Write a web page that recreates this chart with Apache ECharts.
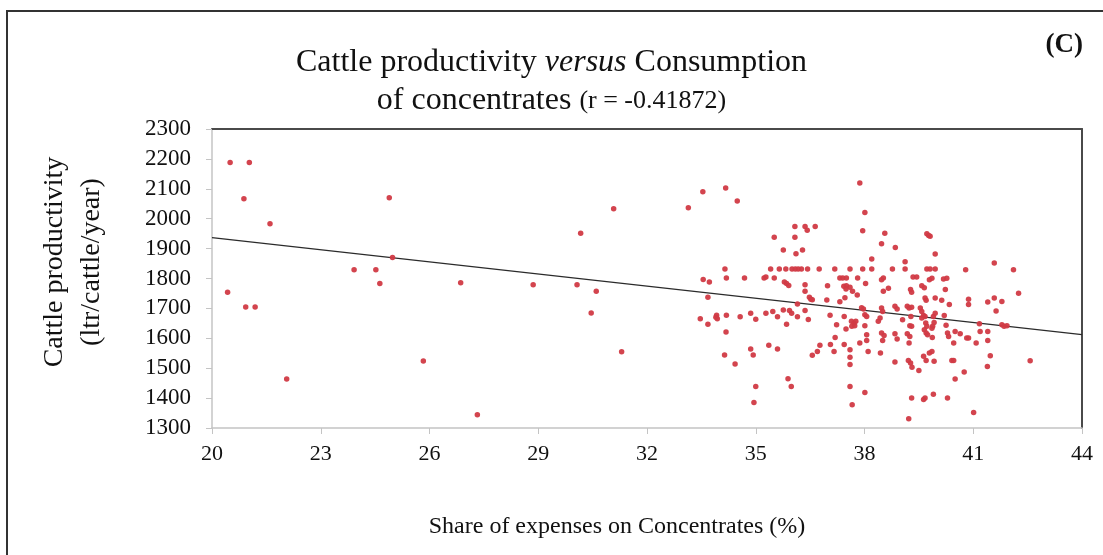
<!DOCTYPE html>
<html>
<head>
<meta charset="utf-8">
<script src="https://cdn.jsdelivr.net/npm/echarts@6/dist/echarts.min.js"></script>
<style>
  html, body { margin: 0; padding: 0; background: #fff; }
  #chart { width: 1103px; height: 555px; }
</style>
</head>
<body>
<div id="chart"></div>
<script>
// Share of expenses on concentrates (%) for each farm
const shareConcentrates = [
  20.50, 21.03, 20.88, 21.60, 20.43, 20.93, 21.19, 22.06, 23.92, 24.52, 24.63, 24.89, 24.98, 25.83, 26.86, 27.32,
  28.86, 30.07, 30.17, 30.60, 30.46, 31.08, 31.30, 33.14, 33.54, 34.17, 34.15, 33.55, 33.72, 34.19, 33.68, 33.47,
  33.68, 33.92, 33.94, 33.90, 34.19, 34.18, 34.14,
  34.49, 36.08, 36.36, 36.42, 36.64, 35.51, 36.08, 35.76, 36.29, 36.11,
  35.41, 35.65, 35.83, 36.00, 36.09, 36.17, 36.26, 36.43, 36.75,
  34.69, 35.23, 35.28, 35.51, 35.79, 35.85, 35.91, 36.36, 36.36, 36.98,
  36.48, 36.52, 36.56, 36.96, 36.15,
  34.57, 34.86, 35.00, 35.28, 35.47, 35.60, 35.76, 35.93, 35.99, 36.15, 36.36, 36.45, 35.85,
  35.36, 35.60, 34.86, 34.93, 34.43, 36.77, 36.70, 36.56, 35.89, 35.98, 35.00, 34.95,
  37.87, 38.01, 37.95, 38.56, 38.47, 38.85, 38.20, 39.12,
  37.18, 37.60, 37.95, 38.20, 38.77, 39.12,
  39.34, 39.44, 37.32, 37.40, 37.50, 37.81, 38.52, 38.47,
  37.43, 37.50, 37.60, 37.49, 37.67, 37.80, 38.03, 38.66, 38.52, 39.27, 39.30,
  37.32, 37.46, 37.92, 37.97, 38.01, 38.06, 38.47, 38.50, 38.43, 38.38, 38.84, 38.90, 39.18, 39.23, 39.30, 39.05, 39.28,
  37.05, 37.44, 37.23, 37.49, 37.64, 37.71, 37.76, 37.65, 37.73, 38.01, 39.25, 39.30, 39.18, 39.25, 38.47, 38.54,
  38.50, 38.06, 38.06, 38.84, 38.90,
  37.19, 37.06, 37.44, 37.60, 37.60, 37.87, 38.10, 38.44, 39.23, 37.16, 37.60, 38.84, 39.21, 39.27, 39.31, 39.50,
  37.60, 38.01, 37.66, 39.30, 39.22,
  39.72, 39.77, 39.81, 39.95, 39.72, 39.81, 39.95, 40.79, 41.58,
  39.79, 39.86, 40.18, 40.27, 39.58, 39.65, 40.23,
  39.67, 39.70, 39.95, 40.13, 40.34, 40.87, 40.87, 41.40, 41.58, 41.79, 41.63,
  39.54, 39.58, 39.63, 39.67, 39.58, 39.69, 39.72, 39.65, 39.70, 39.74,
  39.90, 39.92, 39.88, 39.86, 39.95, 40.20, 40.25, 40.29, 40.32, 40.50, 40.64, 40.46, 40.82, 40.87, 41.17, 41.19,
  41.40, 41.40, 41.08, 39.87,
  39.63, 39.70, 39.79, 39.86, 39.92, 40.41, 40.46, 40.50, 40.75, 41.47, 41.39,
  39.63, 39.67, 39.90, 40.29, 41.01, 41.79, 41.85, 41.93,
  42.11, 42.25, 42.57
];

// Cattle productivity (ltr/cattle/year), same order as shareConcentrates
const productivity = [
  2188, 2188, 2067, 1983, 1754, 1705, 1705, 1464, 1829, 1829, 1783, 2070, 1870, 1524, 1786, 1344,
  1779, 1779, 1951, 1757, 1685, 2033, 1555, 2037, 2090, 2103, 1832, 1797, 1788, 1802, 1737, 1665,
  1647, 1677, 1665, 1670, 1677, 1621, 1544,
  2059, 1974, 1974, 1961, 1974, 1938, 1938, 1895, 1895, 1883,
  1832, 1832, 1832, 1832, 1832, 1832, 1832, 1832, 1832,
  1802, 1802, 1805, 1802, 1788, 1783, 1777, 1779, 1757, 1776,
  1737, 1731, 1729, 1728, 1715,
  1672, 1684, 1664, 1684, 1690, 1672, 1695, 1693, 1684, 1672, 1693, 1663, 1647,
  1577, 1564, 1564, 1544, 1514, 1577, 1556, 1543, 1465, 1439, 1439, 1385,
  2119, 2021, 1960, 1951, 1916, 1904, 1865, 1856,
  1832, 1832, 1832, 1832, 1832, 1832,
  1805, 1805, 1802, 1802, 1802, 1802, 1802, 1796,
  1774, 1776, 1771, 1765, 1757, 1745, 1783, 1767, 1757, 1763, 1754,
  1722, 1736, 1702, 1698, 1679, 1673, 1701, 1690, 1668, 1657, 1707, 1698, 1707, 1701, 1704, 1662, 1673,
  1677, 1673, 1645, 1631, 1657, 1651, 1657, 1640, 1642, 1642, 1642, 1640, 1615, 1606, 1618, 1609,
  1593, 1612, 1593, 1615, 1598,
  1603, 1579, 1579, 1562, 1537, 1584, 1556, 1551, 1584, 1556, 1512, 1521, 1526, 1517, 1503, 1492,
  1439, 1419, 1378, 1400, 1331,
  1950, 1944, 1941, 1882, 1832, 1832, 1832, 1829, 1852,
  1796, 1801, 1798, 1801, 1776, 1769, 1763,
  1735, 1727, 1735, 1727, 1713, 1731, 1713, 1721, 1735, 1723, 1691,
  1701, 1690, 1676, 1673, 1668, 1651, 1640, 1629, 1618, 1612,
  1673, 1653, 1640, 1634, 1684, 1676, 1644, 1618, 1606, 1623, 1615, 1584, 1601, 1601, 1649, 1623,
  1623, 1593, 1584, 1603,
  1540, 1526, 1551, 1556, 1523, 1526, 1526, 1464, 1487, 1542, 1506,
  1395, 1400, 1413, 1400, 1352, 1645, 1640, 1642,
  1829, 1751, 1525
];

// Fitted linear trend, end points at both ends of the x range
const trendShare = [20, 44];
const trendProductivity = [1937, 1612];

// Tick labels
const xTicks = [20, 23, 26, 29, 32, 35, 38, 41, 44];
const yMin = 1300, yMax = 2300, yStep = 100;

const points = shareConcentrates.map((x, i) => [x, productivity[i]]);
const trend = trendShare.map((x, i) => [x, trendProductivity[i]]);

const serif = 'Liberation Serif, Times New Roman, serif';
const chart = echarts.init(document.getElementById('chart'), null, { renderer: 'canvas' });

chart.setOption({
  animation: false,
  backgroundColor: '#ffffff',
  title: [
    {
      text: '{a|Cattle productivity }{i|versus}{a| Consumption}',
      left: 'center',
      top: 42,
      textStyle: {
        fontWeight: 'normal',
        rich: {
          a: { fontFamily: serif, fontSize: 32, fontWeight: 'normal', color: '#111' },
          i: { fontFamily: serif, fontSize: 32, fontWeight: 'normal', fontStyle: 'italic', color: '#111' }
        }
      }
    },
    {
      text: '{a|of concentrates }{s|(r = -0.41872)}',
      left: 'center',
      top: 80,
      textStyle: {
        fontWeight: 'normal',
        rich: {
          a: { fontFamily: serif, fontSize: 32, fontWeight: 'normal', color: '#111' },
          s: { fontFamily: serif, fontSize: 26, fontWeight: 'normal', color: '#111' }
        }
      }
    }
  ],
  grid: { left: 212, top: 129, width: 870, height: 299, containLabel: false },
  xAxis: [
    {
      type: 'value',
      min: 20,
      max: 44,
      axisLine: { show: true, lineStyle: { color: '#c4c4c4', width: 1.5 } },
      axisTick: { show: true, customValues: xTicks, length: 6, lineStyle: { color: '#c4c4c4' } },
      axisLabel: { customValues: xTicks, margin: 15, fontFamily: serif, fontSize: 22, color: '#111' },
      splitLine: { show: false }
    },
    {
      type: 'value',
      position: 'top',
      min: 20,
      max: 44,
      axisLine: { show: true, lineStyle: { color: '#4a4a4a', width: 2 } },
      axisTick: { show: false },
      axisLabel: { show: false },
      splitLine: { show: false }
    }
  ],
  yAxis: [
    {
      type: 'value',
      min: yMin,
      max: yMax,
      interval: yStep,
      axisLine: { show: true, lineStyle: { color: '#c4c4c4', width: 1.5 } },
      axisTick: { show: true, length: 6, lineStyle: { color: '#c4c4c4' } },
      axisLabel: { margin: 21, fontFamily: serif, fontSize: 23, color: '#111', formatter: v => String(v) },
      splitLine: { show: false }
    },
    {
      type: 'value',
      position: 'right',
      min: yMin,
      max: yMax,
      interval: yStep,
      axisLine: { show: true, lineStyle: { color: '#4a4a4a', width: 2 } },
      axisTick: { show: false },
      axisLabel: { show: false },
      splitLine: { show: false }
    }
  ],
  graphic: [
    {
      type: 'rect',
      silent: true,
      shape: { x: 7, y: 11, width: 1120, height: 570 },
      style: { fill: 'none', stroke: '#333', lineWidth: 2 }
    },
    {
      type: 'text',
      x: 1083,
      y: 32,
      style: { text: '(C)', fontFamily: serif, fontSize: 27, fontWeight: 'bold', fill: '#111', align: 'right' }
    },
    {
      type: 'text',
      x: 55,
      y: 262,
      rotation: Math.PI / 2,
      style: { text: 'Cattle productivity', fontFamily: serif, fontSize: 28, fill: '#111', align: 'center', verticalAlign: 'middle' }
    },
    {
      type: 'text',
      x: 92,
      y: 262,
      rotation: Math.PI / 2,
      style: { text: '(ltr/cattle/year)', fontFamily: serif, fontSize: 28, fill: '#111', align: 'center', verticalAlign: 'middle' }
    },
    {
      type: 'text',
      x: 617,
      y: 527,
      style: { text: 'Share of expenses on Concentrates (%)', fontFamily: serif, fontSize: 24, fill: '#111', align: 'center', verticalAlign: 'middle' }
    }
  ],
  series: [
    {
      name: 'Trend',
      type: 'line',
      data: trend,
      symbol: 'none',
      lineStyle: { color: '#2b2b2b', width: 1.3 },
      z: 2
    },
    {
      name: 'Farms',
      type: 'scatter',
      data: points,
      symbol: 'circle',
      symbolSize: 5.5,
      itemStyle: { color: '#d13a44', opacity: 0.95 },
      z: 3
    }
  ]
});
</script>
</body>
</html>
